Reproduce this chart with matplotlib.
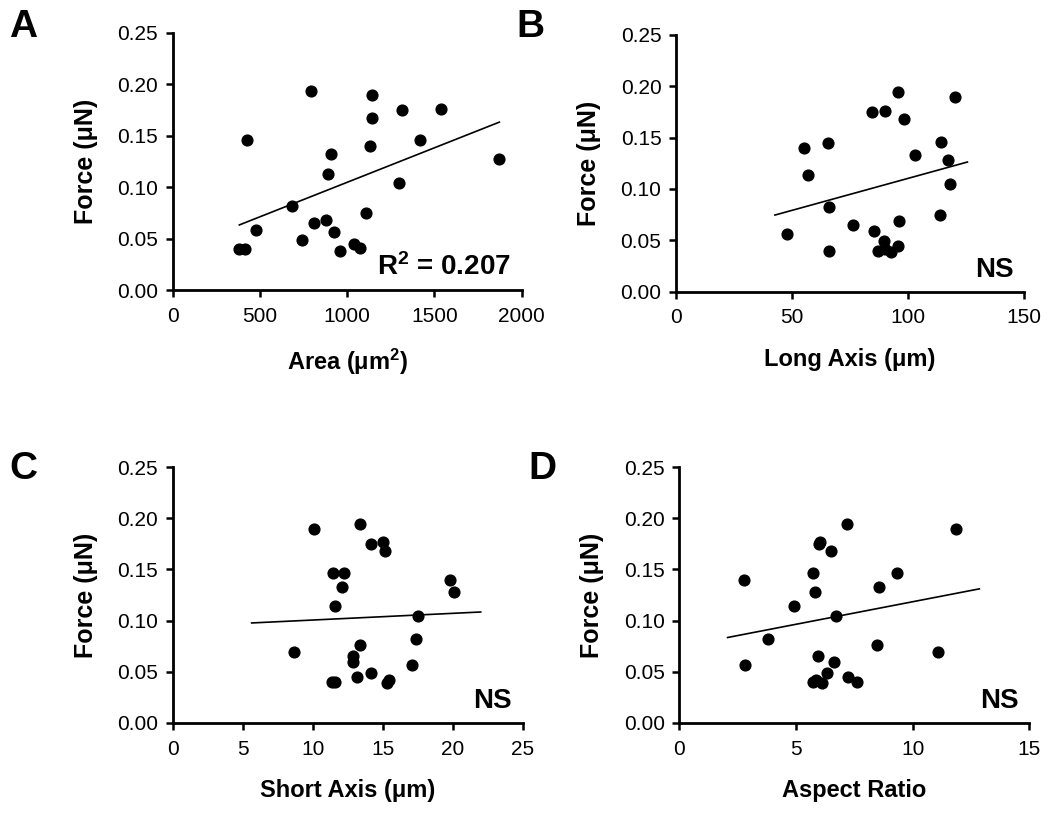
import matplotlib
matplotlib.use("Agg")
import matplotlib.pyplot as plt

plt.rcParams['font.family'] = ['Liberation Sans', 'DejaVu Sans']
plt.rcParams['mathtext.fontset'] = 'custom'
plt.rcParams['mathtext.bf'] = 'Liberation Sans:bold'
plt.rcParams['mathtext.rm'] = 'Liberation Sans:bold'
plt.rcParams['mathtext.default'] = 'bf'

# force values (uN)
area = [382, 414, 428, 479, 682, 743, 793, 812, 877, 892, 905, 926,
        959, 1039, 1074, 1108, 1129, 1142, 1140, 1295, 1312, 1419, 1538, 1872]
force_a = [0.0396, 0.0400, 0.1455, 0.0588, 0.0815, 0.0484, 0.1938, 0.0649,
           0.0682, 0.1133, 0.1325, 0.0562, 0.0383, 0.0448, 0.0406, 0.0753,
           0.1399, 0.1896, 0.1672, 0.1042, 0.1750, 0.1458, 0.1760, 0.1273]

long_axis = [47.8, 55.1, 56.7, 65.3, 65.9, 65.7, 76.3, 84.2, 85.2, 87.1, 89.4, 89.8,
             89.8, 92.8, 95.7, 95.7, 96.1, 98.1, 103.0, 113.5, 114.1, 117.1, 117.8, 120.2]
force_b = [0.0563, 0.1400, 0.1139, 0.1451, 0.0820, 0.0397, 0.0651, 0.1750,
           0.0589, 0.0397, 0.0488, 0.1763, 0.0413, 0.0384, 0.1942, 0.0446,
           0.0686, 0.1679, 0.1327, 0.0748, 0.1457, 0.1282, 0.1047, 0.1897]

short_axis = [8.69, 10.12, 11.43, 11.40, 11.62, 11.60, 12.07, 12.24, 12.86, 12.86, 13.19, 13.38,
              13.38, 14.14, 14.14, 15.00, 15.14, 15.29, 15.43, 17.10, 17.38, 17.55, 19.79, 20.10]
force_c = [0.0689, 0.1893, 0.1463, 0.0405, 0.0405, 0.1139, 0.1327, 0.1463,
           0.0654, 0.0599, 0.0453, 0.1939, 0.0757, 0.1751, 0.0492, 0.1764,
           0.1676, 0.0395, 0.0421, 0.0570, 0.0822, 0.1049, 0.1401, 0.1275]

aspect = [2.79, 2.81, 3.81, 4.91, 5.74, 5.71, 5.83, 5.84, 5.94, 5.99, 6.04, 6.10,
          6.34, 6.49, 6.64, 6.73, 7.17, 7.24, 7.63, 8.49, 8.56, 9.33, 11.07, 11.84]
force_d = [0.1401, 0.0570, 0.0822, 0.1139, 0.1460, 0.0405, 0.1275, 0.0421,
           0.0654, 0.1751, 0.1764, 0.0388, 0.0492, 0.1676, 0.0599, 0.1049,
           0.1939, 0.0453, 0.0405, 0.0757, 0.1327, 0.1460, 0.0689, 0.1893]

# regression line endpoints as drawn
fit_a = ([382, 1872], [0.0633, 0.1633])
fit_b = ([42.6, 125.5], [0.0745, 0.1262])
fit_c = ([5.64, 22.0], [0.0977, 0.1084])
fit_d = ([2.07, 12.86], [0.0835, 0.1310])

panels = [
    ("A", area, force_a, fit_a, "Area (μm$^2$)", 2000, [0, 500, 1000, 1500, 2000], "R$^2$ = 0.207"),
    ("B", long_axis, force_b, fit_b, "Long Axis (μm)", 150, [0, 50, 100, 150], "NS"),
    ("C", short_axis, force_c, fit_c, "Short Axis (μm)", 25, [0, 5, 10, 15, 20, 25], "NS"),
    ("D", aspect, force_d, fit_d, "Aspect Ratio", 15, [0, 5, 10, 15], "NS"),
]

W, H = 1050, 817
# axes boxes in pixels: left, right, top, bottom
boxes = [(172.7, 521.7, 33, 290), (676, 1024.3, 35, 291.5),
         (172.7, 522.7, 467, 723), (679.3, 1029.3, 467, 723)]
letter_pos = [(9, 9), (516, 9), (9, 451), (528, 451)]

fig = plt.figure(figsize=(W / 100, H / 100), dpi=100)

for (letter, x, y, fit, xlabel, xmax, xticks, note), (l, r, t, b), (lx, ly) in zip(panels, boxes, letter_pos):
    ax = fig.add_axes([l / W, (H - b) / H, (r - l) / W, (b - t) / H])
    ax.scatter(x, y, s=60, color='black', zorder=3)
    ax.plot(fit[0], fit[1], color='black', lw=1.2)
    ax.set_xlim(0, xmax)
    ax.set_ylim(0, 0.25)
    ax.set_xticks(xticks)
    ax.set_yticks([0, 0.05, 0.10, 0.15, 0.20, 0.25])
    ax.set_yticklabels(["0.00", "0.05", "0.10", "0.15", "0.20", "0.25"])
    ax.spines['top'].set_visible(False)
    ax.spines['right'].set_visible(False)
    for s in ['left', 'bottom']:
        ax.spines[s].set_linewidth(2)
    ax.tick_params(direction='out', length=5, width=1.8, labelsize=15, pad=5.5)
    ax.tick_params(axis='x', pad=7)
    ax.set_xlabel(xlabel, fontsize=17, fontweight='bold', labelpad=15)
    ax.set_ylabel("Force (μN)", fontsize=18, fontweight='bold', labelpad=14)
    ax.text(0.97, 0.035, note, transform=ax.transAxes, ha='right', va='bottom',
            fontsize=20, fontweight='bold')
    fig.text(lx / W, 1 - ly / H, letter, ha='left', va='top', fontsize=28, fontweight='bold')

fig.savefig("out.png", dpi=100)
